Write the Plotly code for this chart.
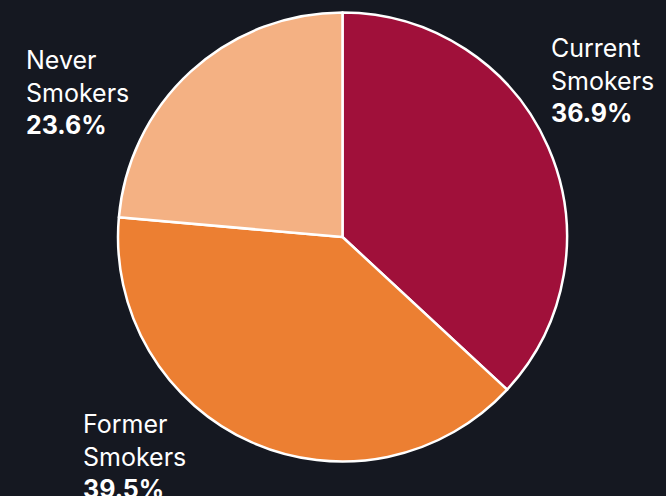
import plotly.graph_objects as go

categories = ["Current Smokers", "Former Smokers", "Never Smokers"]
label_lines = [["Current", "Smokers"], ["Former", "Smokers"], ["Never", "Smokers"]]
values = [36.9, 39.5, 23.6]
colors = ["#A0103A", "#EC7F32", "#F4B183"]

W, H = 666, 496
# label anchor positions (pixels, top-left)
label_pos = [(549, 31), (81, 407), (24, 43)]

fig = go.Figure(go.Pie(
    labels=categories,
    values=values,
    sort=False,
    direction="clockwise",
    rotation=0,
    marker=dict(colors=colors, line=dict(color="white", width=2.5)),
    textinfo="none",
    hoverinfo="label+percent",
    domain=dict(x=[118 / W, 567 / W], y=[1 - 462 / H, 1 - 12 / H]),
    showlegend=False,
))

for lines, v, (px, py) in zip(label_lines, values, label_pos):
    fig.add_annotation(
        xref="paper", yref="paper",
        x=px / W, y=1 - py / H,
        xanchor="left", yanchor="top",
        align="left", showarrow=False,
        text="<br>".join(lines) + f"<br><b>{v:.1f}%</b>",
        font=dict(family="Inter", size=25, color="white"),
    )

fig.update_layout(
    width=W, height=H,
    margin=dict(l=0, r=0, t=0, b=0),
    paper_bgcolor="#151821",
    plot_bgcolor="#151821",
)

fig.write_html("out.html")
